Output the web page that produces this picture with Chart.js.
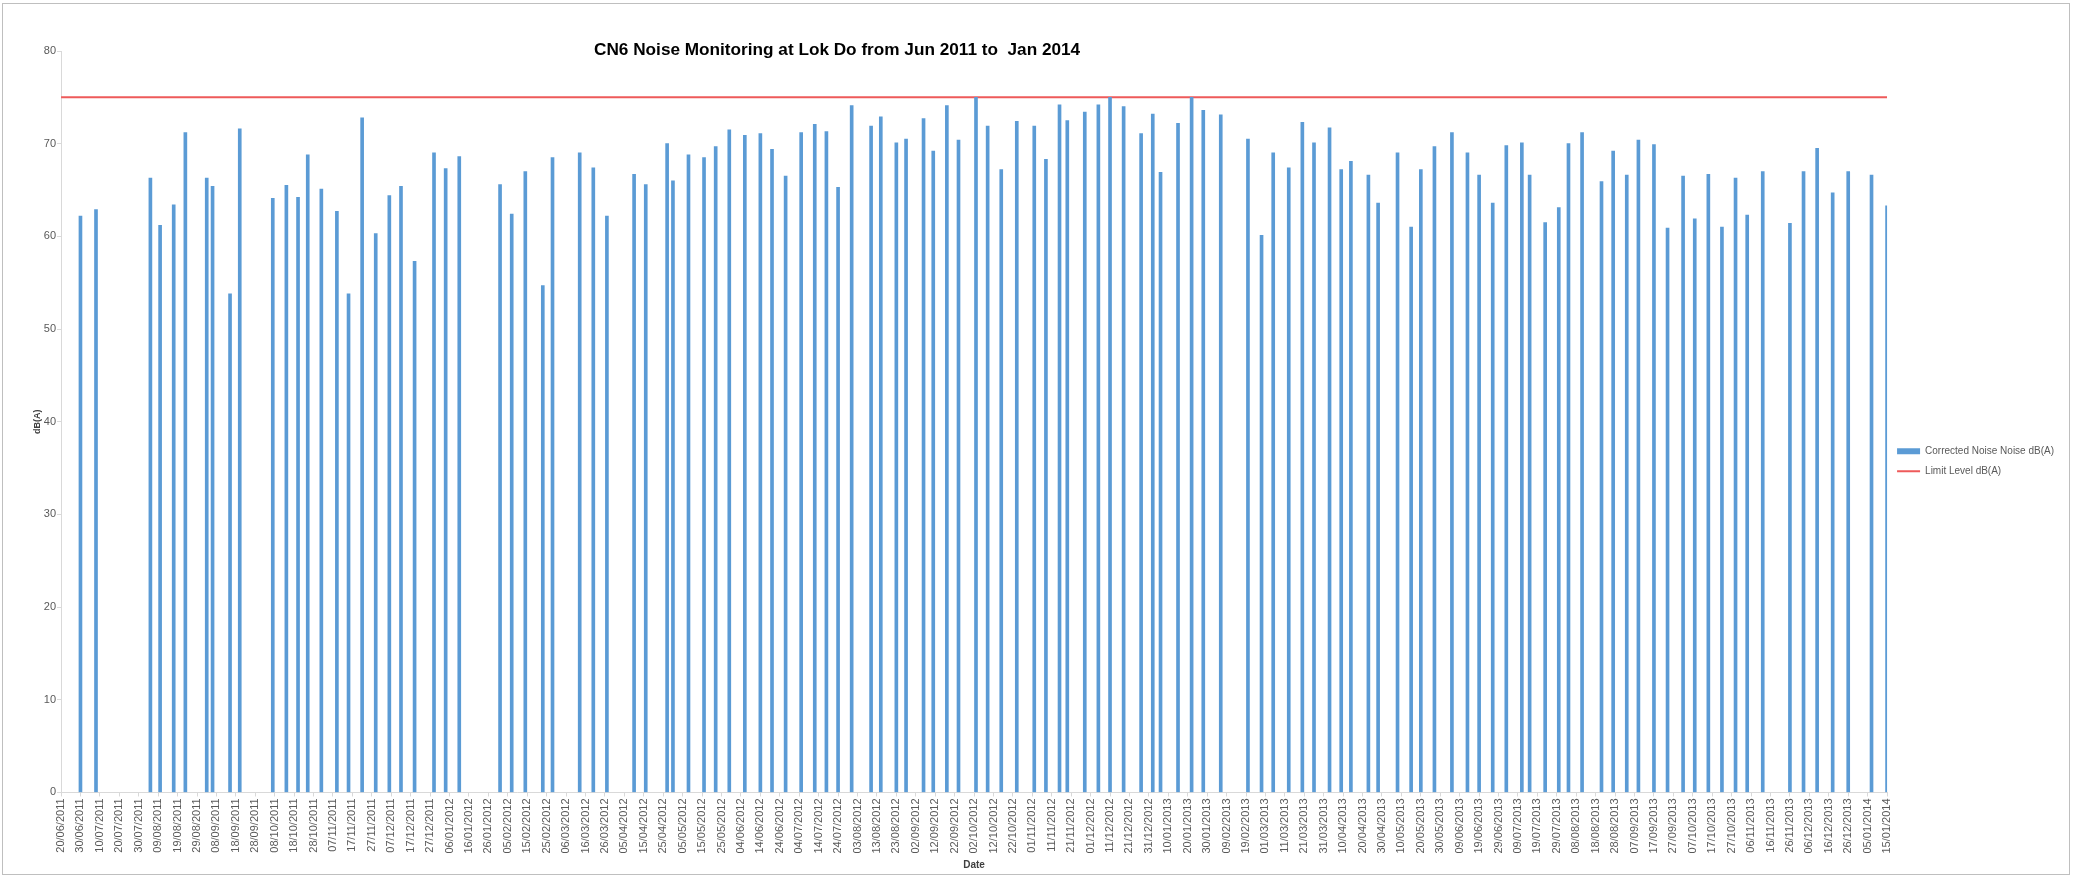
<!DOCTYPE html>
<html>
<head>
<meta charset="utf-8">
<title>CN6 Noise Monitoring at Lok Do</title>
<script src="https://cdn.jsdelivr.net/npm/chart.js@4.4.1/dist/chart.umd.min.js"></script>
<style>
  html, body { margin: 0; padding: 0; background: #fff; }
</style>
</head>
<body>
<canvas id="noiseChart" width="2076" height="881"></canvas>
<script>
const chartTitle = 'CN6 Noise Monitoring at Lok Do from Jun 2011 to  Jan 2014'
const startDate = '20/06/2011'
const endDate = '15/01/2014'

// measurement dates (dd/mm/yyyy) and corrected noise levels dB(A)
const measureDates = [
  '30/06/2011','08/07/2011','05/08/2011','10/08/2011','17/08/2011','23/08/2011','03/09/2011','06/09/2011','15/09/2011','20/09/2011',
  '07/10/2011','14/10/2011','20/10/2011','25/10/2011','01/11/2011','09/11/2011','15/11/2011','22/11/2011','29/11/2011','06/12/2011',
  '12/12/2011','19/12/2011','29/12/2011','04/01/2012','11/01/2012','01/02/2012','07/02/2012','14/02/2012','23/02/2012','28/02/2012',
  '13/03/2012','20/03/2012','27/03/2012','10/04/2012','16/04/2012','27/04/2012','30/04/2012','08/05/2012','16/05/2012','22/05/2012',
  '29/05/2012','06/06/2012','14/06/2012','20/06/2012','27/06/2012','05/07/2012','12/07/2012','18/07/2012','24/07/2012','31/07/2012',
  '10/08/2012','15/08/2012','23/08/2012','28/08/2012','06/09/2012','11/09/2012','18/09/2012','24/09/2012','03/10/2012','09/10/2012',
  '16/10/2012','24/10/2012','02/11/2012','08/11/2012','15/11/2012','19/11/2012','28/11/2012','05/12/2012','11/12/2012','18/12/2012',
  '27/12/2012','02/01/2013','06/01/2013','15/01/2013','22/01/2013','28/01/2013','06/02/2013','20/02/2013','27/02/2013','05/03/2013',
  '13/03/2013','20/03/2013','26/03/2013','03/04/2013','09/04/2013','14/04/2013','23/04/2013','28/04/2013','08/05/2013','15/05/2013',
  '20/05/2013','27/05/2013','05/06/2013','13/06/2013','19/06/2013','26/06/2013','03/07/2013','11/07/2013','15/07/2013','23/07/2013',
  '30/07/2013','04/08/2013','11/08/2013','21/08/2013','27/08/2013','03/09/2013','09/09/2013','17/09/2013','24/09/2013','02/10/2013',
  '08/10/2013','15/10/2013','22/10/2013','29/10/2013','04/11/2013','12/11/2013','26/11/2013','03/12/2013','10/12/2013','18/12/2013',
  '26/12/2013','07/01/2014','15/01/2014'
]
const noiseLevels = [
  62.2, 62.9, 66.3, 61.2, 63.4, 71.2, 66.3, 65.4, 53.8, 71.6,
  64.1, 65.5, 64.2, 68.8, 65.1, 62.7, 53.8, 72.8, 60.3, 64.4,
  65.4, 57.3, 69.0, 67.3, 68.6, 65.6, 62.4, 67.0, 54.7, 68.5,
  69.0, 67.4, 62.2, 66.7, 65.6, 70.0, 66.0, 68.8, 68.5, 69.7,
  71.5, 70.9, 71.1, 69.4, 66.5, 71.2, 72.1, 71.3, 65.3, 74.1,
  71.9, 72.9, 70.1, 70.5, 72.7, 69.2, 74.1, 70.4, 75.0, 71.9,
  67.2, 72.4, 71.9, 68.3, 74.2, 72.5, 73.4, 74.2, 75.0, 74.0,
  71.1, 73.2, 66.9, 72.2, 75.0, 73.6, 73.1, 70.5, 60.1, 69.0,
  67.4, 72.3, 70.1, 71.7, 67.2, 68.1, 66.6, 63.6, 69.0, 61.0,
  67.2, 69.7, 71.2, 69.0, 66.6, 63.6, 69.8, 70.1, 66.6, 61.5,
  63.1, 70.0, 71.2, 65.9, 69.2, 66.6, 70.4, 69.9, 60.9, 66.5,
  61.9, 66.7, 61.0, 66.3, 62.3, 67.0, 61.4, 67.0, 69.5, 64.7,
  67.0, 66.6, 63.3
]
const limitDates = ['20/06/2011', '15/01/2014']
const limitLevels = [75, 75]

const DAY = 86400000
function parseDate(s) {
  const [d, m, y] = s.split('/').map(Number)
  return Date.UTC(y, m - 1, d)
}
const t0 = parseDate(startDate)
const toDay = s => Math.round((parseDate(s) - t0) / DAY)
const pad = n => String(n).padStart(2, '0')
function fmtDay(n) {
  const dt = new Date(t0 + n * DAY)
  return pad(dt.getUTCDate()) + '/' + pad(dt.getUTCMonth() + 1) + '/' + dt.getUTCFullYear()
}

const FONT = '"Liberation Sans", Arial, sans-serif'
Chart.defaults.font.family = FONT
Chart.defaults.color = '#595959'

const sheetPlugin = {
  id: 'sheet',
  beforeDraw(chart) {
    const { ctx, width, height } = chart
    ctx.save()
    ctx.fillStyle = '#fff'
    ctx.fillRect(0, 0, width, height)
    ctx.strokeStyle = '#BFBFBF'
    ctx.lineWidth = 1
    ctx.strokeRect(2.5, 3.5, 2067, 871)
    ctx.restore()
  },
  afterDraw(chart) {
    const { ctx, chartArea } = chart
    ctx.save()
    ctx.font = 'bold 17.2px ' + FONT
    ctx.fillStyle = '#000'
    ctx.textAlign = 'center'
    ctx.textBaseline = 'middle'
    ctx.fillText(chartTitle, chartArea.left + chartArea.width * 0.425, 50)
    ctx.restore()
  }
}

new Chart(document.getElementById('noiseChart'), {
  type: 'bar',
  data: {
    datasets: [{
      label: 'Corrected Noise Noise dB(A)',
      data: measureDates.map((d, i) => ({ x: toDay(d), y: noiseLevels[i] })),
      backgroundColor: '#5B9BD5',
      barThickness: 3,
      pointStyle: 'rect'
    }, {
      type: 'line',
      label: 'Limit Level dB(A)',
      data: limitDates.map((d, i) => ({ x: toDay(d), y: limitLevels[i] })),
      borderColor: '#EE5A5A',
      backgroundColor: '#EE5A5A',
      borderWidth: 2,
      pointRadius: 0,
      pointStyle: 'line'
    }]
  },
  options: {
    responsive: false,
    animation: false,
    layout: { padding: { left: 32, top: 51, right: 12, bottom: 9.5 } },
    plugins: {
      tooltip: { enabled: false },
      legend: {
        position: 'right',
        labels: {
          usePointStyle: true,
          pointStyleWidth: 23,
          boxWidth: 23,
          boxHeight: 6,
          padding: 10,
          color: '#595959',
          font: { size: 10 }
        }
      }
    },
    scales: {
      x: {
        type: 'linear',
        min: 0,
        max: toDay(endDate),
        offset: false,
        ticks: {
          stepSize: 10,
          autoSkip: false,
          maxRotation: 90,
          minRotation: 90,
          padding: 2,
          color: '#595959',
          font: { size: 11 },
          callback: v => fmtDay(v)
        },
        grid: { drawOnChartArea: false, tickLength: 4, color: '#D9D9D9', offset: false },
        border: { color: '#D9D9D9' },
        title: { display: true, text: 'Date', color: '#404040', font: { size: 10, weight: 'bold' }, padding: { top: 4, bottom: 0 } }
      },
      y: {
        min: 0,
        max: 80,
        ticks: { stepSize: 10, padding: 1, color: '#595959', font: { size: 11 } },
        grid: { drawOnChartArea: false, tickLength: 4, color: '#D9D9D9' },
        border: { color: '#D9D9D9' },
        title: { display: true, text: 'dB(A)', color: '#404040', font: { size: 9, weight: 'bold' }, padding: { top: 0, bottom: 0 } }
      }
    }
  },
  plugins: [sheetPlugin]
})
</script>
</body>
</html>
